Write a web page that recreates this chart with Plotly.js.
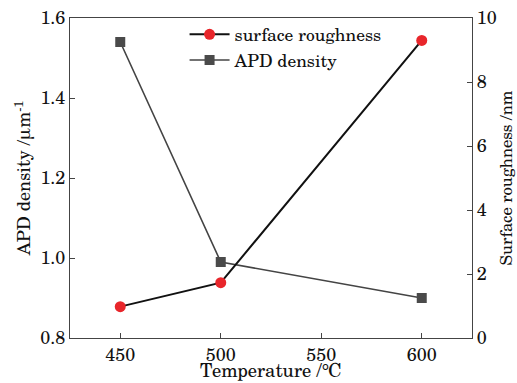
<!DOCTYPE html>
<html><head><meta charset="utf-8">
<script src="https://cdn.plot.ly/plotly-3.0.1.min.js"></script>
<style>body{margin:0}#c{width:517px;height:383px}</style>
</head><body><div id="c"></div>
<script>
const temperature = [450, 500, 600];
const roughness = [0.98, 1.73, 9.3];
const apdDensity = [1.54, 0.99, 0.90];
const xTicks = [450, 500, 550, 600];
const yLeftTicks = [0.8, 1.0, 1.2, 1.4, 1.6];
const yRightTicks = [0, 2, 4, 6, 8, 10];

const F = "'Century Schoolbook','TeX Gyre Schola','DejaVu Serif',serif";
const traces = [
  {x: temperature, y: roughness, name: 'surface roughness', yaxis: 'y2', mode: 'lines+markers',
   line: {color: '#111', width: 2}, marker: {symbol: 'circle', color: '#e8262b', size: 11}},
  {x: temperature, y: apdDensity, name: 'APD density', mode: 'lines+markers',
   line: {color: '#444', width: 1.6}, marker: {symbol: 'square', color: '#4a4a4a', size: 10}}
];
const axisBase = {showgrid: false, zeroline: false, ticks: 'inside', ticklen: 5, tickwidth: 1,
  tickcolor: '#444', linecolor: '#444', linewidth: 1.2, showline: true,
  tickfont: {family: F, size: 18, color: '#111'}};
const layout = {
  width: 517, height: 383,
  margin: {l: 70, r: 45, t: 18, b: 45},
  paper_bgcolor: '#fff', plot_bgcolor: '#fff',
  font: {family: F, color: '#111'},
  showlegend: true,
  legend: {x: 0.285, y: 1.005, xanchor: 'left', yanchor: 'top', bgcolor: 'rgba(0,0,0,0)',
    font: {family: F, size: 17.5, color: '#111'}, tracegroupgap: 0, itemwidth: 40},
  xaxis: Object.assign({}, axisBase, {range: [425, 625], tickvals: xTicks, mirror: true,
    title: {text: 'Temperature /℃', font: {family: F, size: 18.5}, standoff: 0}}),
  yaxis: Object.assign({}, axisBase, {range: [0.8, 1.6], tickvals: yLeftTicks, tickformat: '.1f',
    title: {text: 'APD density /μm<sup>-1</sup>', font: {family: F, size: 18}, standoff: 4}}),
  yaxis2: Object.assign({}, axisBase, {range: [0, 10], tickvals: yRightTicks, overlaying: 'y', side: 'right',
    title: {text: 'Surface roughness /nm', font: {family: F, size: 16.5}, standoff: 6}})
};
Plotly.newPlot('c', traces, layout, {displayModeBar: false, staticPlot: true});
</script></body></html>
